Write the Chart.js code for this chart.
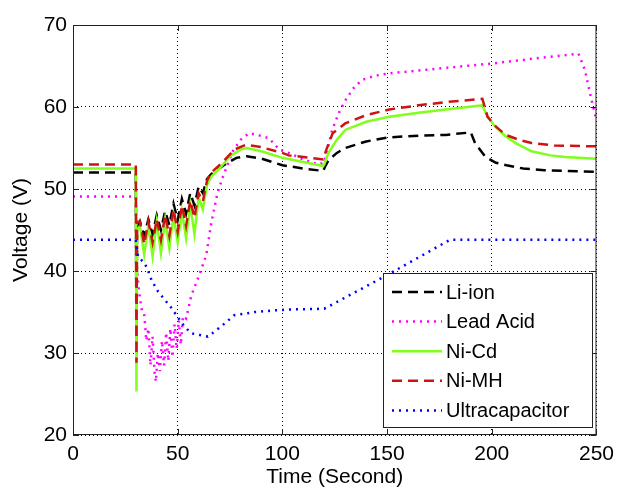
<!DOCTYPE html>
<html>
<head>
<meta charset="utf-8">
<script src="https://cdn.jsdelivr.net/npm/chart.js@4.4.1/dist/chart.umd.min.js"></script>
<style>
  body { margin: 0; background: #fff; }
  #wrap { width: 621px; height: 490px; }
</style>
</head>
<body>
<div id="wrap"><canvas id="chart" width="621" height="490"></canvas></div>
<script>
// [time (s), voltage (V)]
const liIon = [[0,52],[30,52],[30.3,30],[30.6,45],[32,46],[34,44.3],[36,46.3],[38,44.5],[40,46.8],[42,45],[44,47.3],[46,45.6],[48,48.2],[50,46.2],[52,48.8],[54,47],[56,49.5],[58,48],[60,50.3],[62,49.5],[64,51.2],[66,51.8],[72,52.9],[78,53.8],[83,54],[90,53.7],[100,52.9],[110,52.5],[119.5,52.2],[120.5,52.8],[122,53.5],[126,54.4],[130,55],[140,55.8],[151,56.3],[165,56.5],[178,56.6],[190,56.9],[192,55.6],[197,53.9],[202,53.2],[207,52.9],[215,52.5],[225,52.3],[250,52.1]];
const leadAcid = [[0,49.1],[30,49.1],[30.3,41],[31.5,37.5],[33,35],[34,34.8],[35,31.5],[36,33],[37,28.5],[38,32],[39,27.5],[39.6,26.5],[40.5,30],[41.5,27.8],[42.5,31.5],[43.5,28.5],[44.5,32.5],[45.5,29],[46.5,33],[47.5,29.5],[48.5,33.5],[49.5,30.5],[50.5,34],[51.5,31],[52.5,34.5],[54,34.2],[56.5,37],[61,40],[63.7,42],[66,45.8],[69,49.5],[71.6,51.5],[76.3,54.6],[80,56],[84,56.8],[88,56.6],[93.5,56.2],[98.6,54.8],[103,54.4],[110,53.6],[117,53],[120,53.2],[123.8,57.2],[127,59.3],[130.3,60.9],[134,62.3],[138,63.3],[144,63.8],[151,64.1],[175,64.7],[200,65.3],[220,65.9],[241.4,66.5],[244.5,64.5],[247.6,60.9],[250,58.4]];
const niCd = [[0,52.5],[30,52.5],[30.3,25.3],[30.6,45],[32,45.5],[34,42],[36,45.5],[38,41.8],[40,46],[42,42.2],[44,46.3],[46,42.8],[48,46.8],[50,43.5],[52,47.3],[54,44],[56,48],[58,44.5],[60,49],[62,47.5],[64,50.5],[66,51.5],[70,52.5],[75,54],[80,54.8],[83,55],[90,54.6],[100,53.8],[110,53.3],[119.5,52.8],[120,53],[122,54.4],[126,56],[130,57.2],[140,58.2],[151,58.8],[165,59.3],[178,59.7],[195.5,60.2],[198,58.8],[202,57.5],[206.7,56.4],[212,55.5],[219,54.6],[228,54.1],[235,53.9],[250,53.7]];
const niMH = [[0,53],[30,53],[30.3,28.8],[30.6,46],[32,46],[34,43.3],[36,46],[38,43.5],[40,46.3],[42,43.8],[44,46.8],[46,44.3],[48,47.5],[50,44.8],[52,48],[54,45.5],[56,48.6],[58,46.5],[60,49.5],[62,48.5],[64,51],[66,52],[71.6,53.3],[77,54.8],[82.7,55.4],[90,55.1],[100,54.4],[103,54.1],[110,53.9],[119.5,53.6],[120,54],[121,54.8],[124,56.8],[130,58],[140,59],[151,59.7],[165,60.2],[178,60.6],[195.5,61],[198,58.8],[202,57.6],[206.7,56.6],[213,56],[219,55.6],[230,55.3],[250,55.2]];
const ultracap = [[0,43.8],[30,43.8],[30.5,42.8],[31.1,41.7],[33.7,41.1],[35.3,40.4],[37.5,38.9],[40.6,37.5],[43.8,36.5],[47,35.5],[50.2,34.3],[53.3,33.2],[56.5,32.4],[60.5,32.2],[64.4,32],[67.6,32.6],[72.4,33.6],[77,34.6],[86.9,35],[96.4,35.2],[103,35.3],[120,35.4],[150,39.5],[180,43.8],[250,43.8]];

const seriesNames = ["Li-ion", "Lead Acid", "Ni-Cd", "Ni-MH", "Ultracapacitor"];
const xTicks = [0, 50, 100, 150, 200, 250];
const yTicks = [20, 30, 40, 50, 60, 70];

const FONT = "'Liberation Sans', Arial, sans-serif";

function pts(arr) {
  return arr.map(p => ({ x: p[0], y: p[1] }));
}

const styles = [
  { color: "#000000", dash: [10, 6], width: 2.5 },
  { color: "#ff00ff", dash: [2, 5], width: 2.5 },
  { color: "#80ff1a", dash: [], width: 2.5 },
  { color: "#cc1414", dash: [10, 6], width: 2.5 },
  { color: "#0000ff", dash: [2, 5], width: 2.5 },
];
const allData = [liIon, leadAcid, niCd, niMH, ultracap];

const datasets = allData.map((d, i) => ({
  label: seriesNames[i],
  data: pts(d),
  borderColor: styles[i].color,
  backgroundColor: styles[i].color,
  borderDash: styles[i].dash,
  borderWidth: styles[i].width,
  pointRadius: 0,
  tension: 0,
  fill: false,
  order: 5 - i,
}));

// box, inward ticks and matlab style legend
const matlabFrame = {
  id: "matlabFrame",
  afterDraw(chart) {
    const ctx = chart.ctx;
    const a = chart.chartArea;
    const xs = chart.scales.x, ys = chart.scales.y;
    ctx.save();
    ctx.strokeStyle = "#222";
    ctx.lineWidth = 1;
    ctx.setLineDash([]);
    ctx.strokeRect(a.left + 0.5, a.top + 0.5, a.right - a.left - 1, a.bottom - a.top - 1);
    ctx.beginPath();
    xTicks.forEach(t => {
      const px = Math.round(xs.getPixelForValue(t)) + 0.5;
      ctx.moveTo(px, a.bottom); ctx.lineTo(px, a.bottom - 6);
      ctx.moveTo(px, a.top); ctx.lineTo(px, a.top + 6);
    });
    yTicks.forEach(t => {
      const py = Math.round(ys.getPixelForValue(t)) + 0.5;
      ctx.moveTo(a.left, py); ctx.lineTo(a.left + 6, py);
      ctx.moveTo(a.right, py); ctx.lineTo(a.right - 6, py);
    });
    ctx.stroke();

    // legend
    const lx = 383, ly = 273, lw = 209, lh = 154;
    ctx.fillStyle = "#fff";
    ctx.fillRect(lx, ly, lw, lh);
    ctx.strokeStyle = "#222";
    ctx.strokeRect(lx + 0.5, ly + 0.5, lw, lh);
    ctx.font = "20px " + FONT;
    ctx.textBaseline = "middle";
    ctx.textAlign = "left";
    seriesNames.forEach((name, i) => {
      const y = 292 + i * 29.6;
      const ds = chart.data.datasets[i];
      ctx.beginPath();
      ctx.strokeStyle = ds.borderColor;
      ctx.lineWidth = ds.borderWidth;
      ctx.setLineDash(ds.borderDash);
      ctx.moveTo(392, y); ctx.lineTo(442, y);
      ctx.stroke();
      ctx.setLineDash([]);
      ctx.fillStyle = "#000";
      ctx.fillText(name, 446, y + 1);
    });
    ctx.restore();
  }
};

const chart = new Chart(document.getElementById("chart"), {
  type: "line",
  data: { datasets: datasets },
  plugins: [matlabFrame],
  options: {
    responsive: false,
    animation: false,
    layout: { padding: { top: 25, right: 23, left: 0, bottom: 0 } },
    plugins: {
      legend: { display: false },
      tooltip: { enabled: false },
    },
    scales: {
      x: {
        type: "linear",
        min: 0,
        max: 250,
        afterFit: s => { s.height = 55; },
        afterBuildTicks: s => { s.ticks = xTicks.map(v => ({ value: v })); },
        ticks: { color: "#000", font: { family: FONT, size: 21 }, padding: 7, maxRotation: 0 },
        grid: { color: "#000", lineWidth: 1, drawTicks: false },
        border: { display: false, dash: [1, 3] },
        title: { display: true, text: "Time (Second)", color: "#000", font: { family: FONT, size: 21 }, padding: { top: 0, bottom: 0 } },
      },
      y: {
        type: "linear",
        min: 20,
        max: 70,
        afterFit: s => { s.width = 73; },
        afterBuildTicks: s => { s.ticks = yTicks.map(v => ({ value: v })); },
        ticks: { color: "#000", font: { family: FONT, size: 21 }, padding: 6 },
        grid: { color: "#000", lineWidth: 1, drawTicks: false },
        border: { display: false, dash: [1, 3] },
        title: { display: true, text: "Voltage (V)", color: "#000", font: { family: FONT, size: 21 }, padding: { top: 9, bottom: 0 } },
      },
    },
  },
});
</script>
</body>
</html>
